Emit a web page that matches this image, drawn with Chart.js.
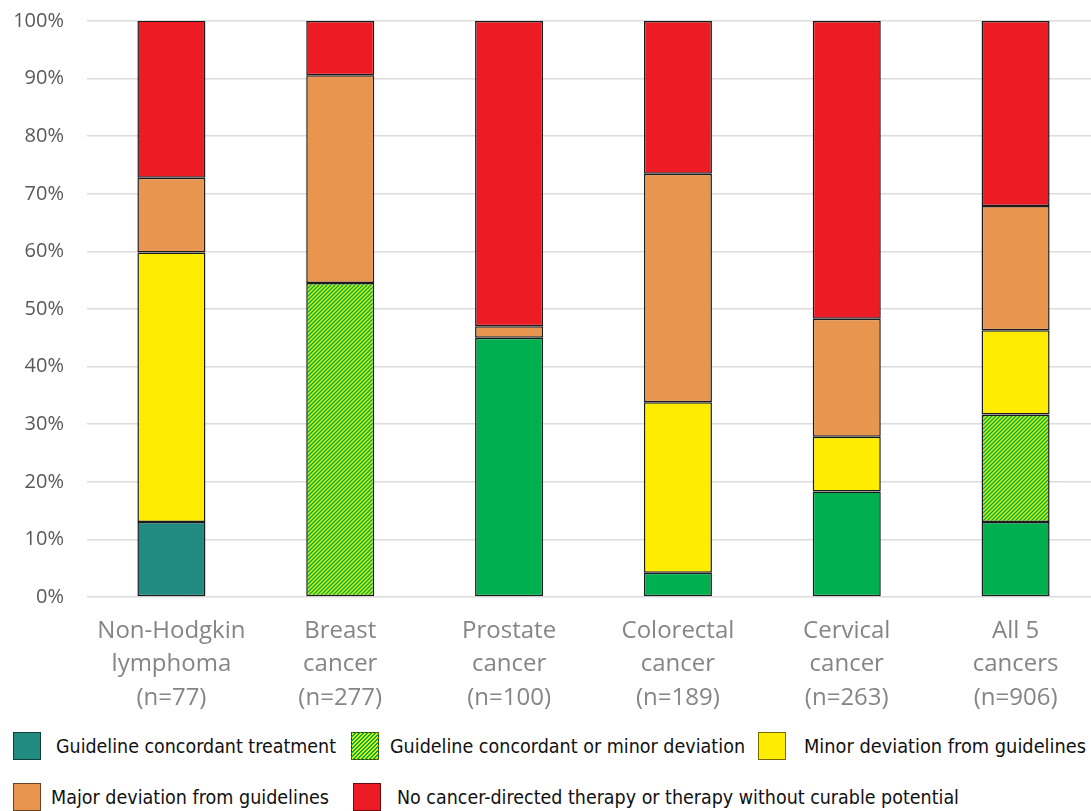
<!DOCTYPE html>
<html>
<head>
<meta charset="utf-8">
<script src="https://cdn.jsdelivr.net/npm/chart.js@4"></script>
<style>
  html, body { margin: 0; padding: 0; background: #fff; overflow: hidden; }
  #wrap { position: relative; width: 1091px; height: 811px; overflow: hidden; }
  #chart { position: absolute; left: 0; top: 0; }
  .lg-swatch { position: absolute; width: 28px; height: 28px; box-sizing: border-box;
               border: 1.5px solid rgba(0,0,0,0.55); }
  .lg-text { position: absolute; font-family: "Liberation Sans Narrow", "DejaVu Sans", sans-serif;
             font-stretch: condensed; font-size: 20px; color: #111; white-space: nowrap;
             line-height: 28px; transform-origin: 0 50%; }
</style>
</head>
<body>
<div id="wrap">
  <canvas id="chart" width="1100" height="720"></canvas>
  <div id="legend"></div>
</div>
<script>
// Cancer types and cohort sizes
const categories = [
  ["Non-Hodgkin", "lymphoma", "(n=77)"],
  ["Breast", "cancer", "(n=277)"],
  ["Prostate", "cancer", "(n=100)"],
  ["Colorectal", "cancer", "(n=189)"],
  ["Cervical", "cancer", "(n=263)"],
  ["All 5", "cancers", "(n=906)"]
];

// Share of patients (%) in each treatment category
const concordant        = [13.0, null, 45.0, 4.2, 18.3, 13.0];
const concordantOrMinor = [null, 54.5, null, null, null, 18.7];
const minorDeviation    = [46.8, null, null, 29.6, 9.5, 14.6];
const majorDeviation    = [13.0, 36.1, 2.0, 39.7, 20.5, 21.6];
const noCurativeTherapy = [27.3, 9.4, 53.0, 26.5, 51.7, 32.1];

const seriesLabels = [
  "Guideline concordant treatment",
  "Guideline concordant or minor deviation",
  "Minor deviation from guidelines",
  "Major deviation from guidelines",
  "No cancer-directed therapy or therapy without curable potential"
];

const yTicks = [0, 10, 20, 30, 40, 50, 60, 70, 80, 90, 100];

// Colours
const TEAL = "#218B82", GREEN = "#00B050", YELLOW = "#FFED00", ORANGE = "#E8964F", RED = "#ED1C24";

// Diagonal green/yellow hatch used for "concordant or minor deviation"
function makeHatch() {
  const c = document.createElement("canvas");
  c.width = 4; c.height = 4;
  const g = c.getContext("2d");
  g.fillStyle = "#E4F000";
  g.fillRect(0, 0, 4, 4);
  g.strokeStyle = GREEN;
  g.lineWidth = 1.5;
  g.beginPath();
  g.moveTo(-1, 1); g.lineTo(1, -1);
  g.moveTo(0, 4); g.lineTo(4, 0);
  g.moveTo(3, 5); g.lineTo(5, 3);
  g.stroke();
  return g.createPattern(c, "repeat");
}
const hatch = makeHatch();

// First segment is teal for lymphoma, bright green for the other groups
const concordantColors = categories.map((_, i) => i === 0 ? TEAL : GREEN);

const common = { borderColor: "#1b1b1b", borderWidth: 1.5, borderSkipped: false,
                 barPercentage: 0.403, categoryPercentage: 1.0 };

const datasets = [
  Object.assign({ label: seriesLabels[0], data: concordant, backgroundColor: concordantColors }, common),
  Object.assign({ label: seriesLabels[1], data: concordantOrMinor, backgroundColor: hatch }, common),
  Object.assign({ label: seriesLabels[2], data: minorDeviation, backgroundColor: YELLOW }, common),
  Object.assign({ label: seriesLabels[3], data: majorDeviation, backgroundColor: ORANGE }, common),
  Object.assign({ label: seriesLabels[4], data: noCurativeTherapy, backgroundColor: RED }, common)
];

const PLOT_LEFT = 87, CANVAS_H = 720, X_AXIS_H = 123;

new Chart(document.getElementById("chart"), {
  type: "bar",
  data: { labels: categories, datasets },
  options: {
    responsive: false,
    animation: false,
    devicePixelRatio: 1,
    layout: { padding: { top: 21, left: 0, right: 0, bottom: 0 } },
    plugins: { legend: { display: false }, tooltip: { enabled: false } },
    scales: {
      x: {
        stacked: true,
        grid: { display: false },
        border: { display: false },
        ticks: {
          color: "#858585",
          font: { family: "'Open Sans', sans-serif", size: 24, lineHeight: 1.4 },
          padding: 9,
          maxRotation: 0, autoSkip: false
        },
        afterFit: s => {
          s.height = X_AXIS_H;
          s.paddingLeft = 0; s.paddingRight = 0; s.paddingTop = 0; s.paddingBottom = 0;
        }
      },
      y: {
        stacked: true,
        min: 0, max: 100,
        afterBuildTicks: s => { s.ticks = yTicks.map(v => ({ value: v })); },
        grid: { color: "#dcdcdc", lineWidth: 1.5, drawTicks: false },
        border: { display: false },
        ticks: {
          color: "#595959",
          font: { family: "'Open Sans', sans-serif", size: 20 },
          padding: 23,
          callback: v => v + "%"
        },
        afterFit: s => {
          s.width = PLOT_LEFT;
          s.paddingTop = 0; s.paddingBottom = 0; s.paddingLeft = 0; s.paddingRight = 0;
        }
      }
    }
  }
});

// Legend, two rows under the plot
const legendFills = [TEAL, "repeating-linear-gradient(-45deg, #00B050 0 1.4px, #E4F000 1.4px 2.8px)", YELLOW, ORANGE, RED];
const legendLayout = [
  { sx: 13,  tx: 56,  y: 732, w: 280 },
  { sx: 351, tx: 390, y: 732, w: 355 },
  { sx: 758, tx: 804, y: 732, w: 282 },
  { sx: 13,  tx: 51,  y: 783, w: 278 },
  { sx: 353, tx: 397, y: 783, w: 562 }
];
const legendEl = document.getElementById("legend");
seriesLabels.forEach((label, i) => {
  const p = legendLayout[i];
  const sw = document.createElement("div");
  sw.className = "lg-swatch";
  sw.style.left = p.sx + "px";
  sw.style.top = p.y + "px";
  sw.style.background = legendFills[i];
  const tx = document.createElement("div");
  tx.className = "lg-text";
  tx.style.left = p.tx + "px";
  tx.style.top = p.y + "px";
  tx.textContent = label;
  legendEl.appendChild(sw);
  legendEl.appendChild(tx);
  // squeeze the label horizontally to the legend column width
  const natural = tx.getBoundingClientRect().width;
  if (natural > 0) tx.style.transform = "scaleX(" + (p.w / natural).toFixed(4) + ")";
});
</script>
</body>
</html>
